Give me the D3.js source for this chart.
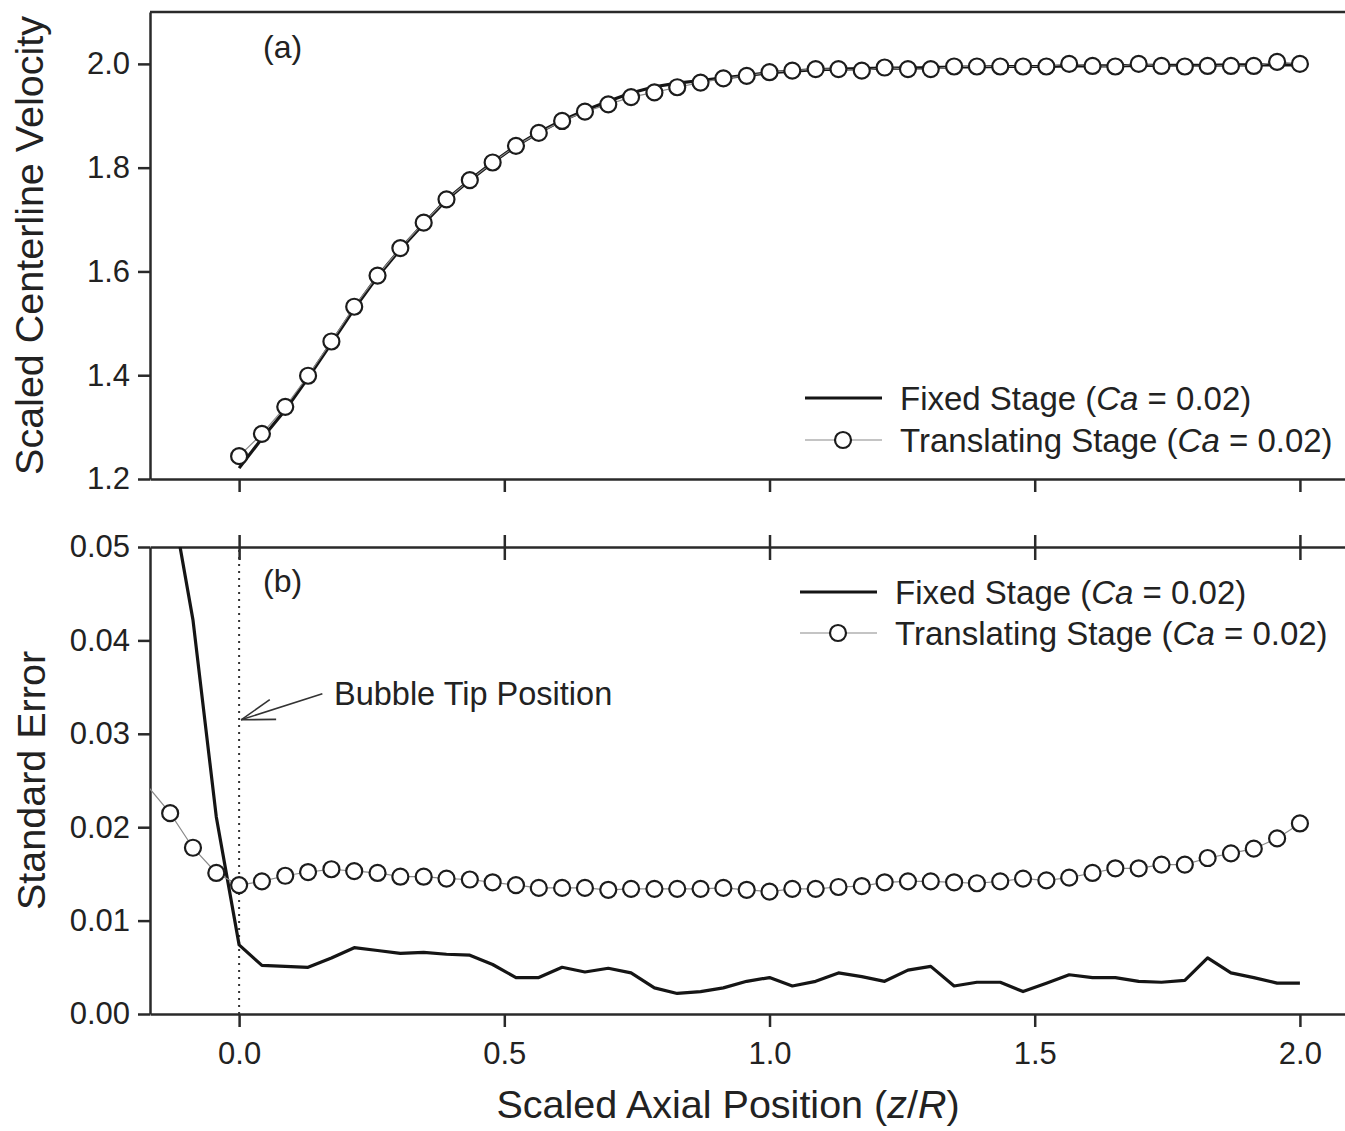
<!DOCTYPE html>
<html>
<head>
<meta charset="utf-8">
<script src="https://cdn.jsdelivr.net/npm/d3@7/dist/d3.min.js"></script>
<style>
  body { margin: 0; background: #fff; }
  svg text { font-family: "Liberation Sans", Arial, sans-serif; fill: #222; }
</style>
</head>
<body>
<div id="plot"></div>
<script>
// axial positions z/R shared by all series
const zPos = [-0.174, -0.130, -0.087, -0.043, 0.000, 0.043, 0.087, 0.130, 0.174, 0.217,
  0.261, 0.304, 0.348, 0.391, 0.435, 0.478, 0.522, 0.565, 0.609, 0.652,
  0.696, 0.739, 0.783, 0.826, 0.870, 0.913, 0.957, 1.000, 1.043, 1.087,
  1.130, 1.174, 1.217, 1.261, 1.304, 1.348, 1.391, 1.435, 1.478, 1.522,
  1.565, 1.609, 1.652, 1.696, 1.739, 1.783, 1.826, 1.870, 1.913, 1.957, 2.000];

// (a) scaled centerline velocity, z >= 0
const velFixed = [1.221, 1.278, 1.333, 1.395, 1.462, 1.528, 1.590, 1.643, 1.692, 1.738,
  1.776, 1.810, 1.842, 1.868, 1.891, 1.910, 1.928, 1.944, 1.956, 1.963,
  1.968, 1.973, 1.978, 1.983, 1.986, 1.989, 1.990, 1.991, 1.992, 1.992,
  1.993, 1.994, 1.994, 1.995, 1.995, 1.995, 1.996, 1.996, 1.996, 1.997,
  1.997, 1.997, 1.997, 1.998, 1.998, 1.998, 1.998];
const velTrans = [1.244, 1.287, 1.339, 1.399, 1.465, 1.532, 1.592, 1.645, 1.694, 1.739,
  1.776, 1.810, 1.842, 1.867, 1.890, 1.908, 1.922, 1.936, 1.945, 1.955,
  1.964, 1.972, 1.977, 1.984, 1.987, 1.990, 1.990, 1.987, 1.993, 1.990,
  1.990, 1.995, 1.995, 1.995, 1.995, 1.995, 2.000, 1.996, 1.995, 2.000,
  1.996, 1.995, 1.996, 1.996, 1.996, 2.004, 2.000];

// (b) standard error, all positions
const errFixed = [0.0700, 0.0560, 0.0422, 0.0211, 0.0074, 0.0052, 0.0051, 0.0050, 0.0060, 0.0071,
  0.0068, 0.0065, 0.0066, 0.0064, 0.0063, 0.0053, 0.0039, 0.0039, 0.0050, 0.0045,
  0.0049, 0.0044, 0.0028, 0.0022, 0.0024, 0.0028, 0.0035, 0.0039, 0.0030, 0.0035,
  0.0044, 0.0040, 0.0035, 0.0047, 0.0051, 0.0030, 0.0034, 0.0034, 0.0024, 0.0033,
  0.0042, 0.0039, 0.0039, 0.0035, 0.0034, 0.0036, 0.0060, 0.0044, 0.0039, 0.0033, 0.0033];
const errTrans = [0.0245, 0.0215, 0.0178, 0.0151, 0.0138, 0.0142, 0.0148, 0.0152, 0.0155, 0.0153,
  0.0151, 0.0147, 0.0147, 0.0145, 0.0144, 0.0141, 0.0138, 0.0135, 0.0135, 0.0135,
  0.0133, 0.0134, 0.0134, 0.0134, 0.0134, 0.0135, 0.0133, 0.0131, 0.0134, 0.0134,
  0.0136, 0.0137, 0.0141, 0.0142, 0.0142, 0.0141, 0.0140, 0.0142, 0.0145, 0.0143,
  0.0146, 0.0151, 0.0156, 0.0156, 0.0160, 0.0160, 0.0167, 0.0172, 0.0177, 0.0188, 0.0204];

const xTicks = [0, 0.5, 1.0, 1.5, 2.0];
const velTicks = [1.2, 1.4, 1.6, 1.8, 2.0];
const errTicks = [0.00, 0.01, 0.02, 0.03, 0.04, 0.05];
const legendLabels = ["Fixed Stage", "Translating Stage"];

const w = 1345, h = 1131;
const left = 150, right = 1345;
const topA = 12, botA = 479;
const topB = 547, botB = 1014;

const svg = d3.select("div#plot").append("svg")
    .attr("width", w)
    .attr("height", h);

const x = d3.scaleLinear().domain([-0.168, 2.085]).range([left, right]);
const yA = d3.scaleLinear().domain([1.2, 2.1]).range([botA, topA]);
const yB = d3.scaleLinear().domain([0, 0.05]).range([botB, topB]);

const topPts = zPos.map(z => ({z: z})).filter(d => d.z >= 0);
topPts.forEach((d, i) => { d.fixed = velFixed[i]; d.trans = velTrans[i]; });
const botPts = zPos.map((z, i) => ({z: z, fixed: errFixed[i], trans: errTrans[i]}));

const defs = svg.append("defs");
defs.append("clipPath").attr("id", "clipA")
  .append("rect").attr("x", left).attr("y", topA).attr("width", right - left).attr("height", botA - topA);
defs.append("clipPath").attr("id", "clipB")
  .append("rect").attr("x", left).attr("y", topB).attr("width", right - left).attr("height", botB - topB);

function styleAxis(g) {
  g.selectAll("path, line").attr("stroke", "#2a2a2a").attr("stroke-width", 2.5);
  g.selectAll("text")
      .attr("font-family", "Liberation Sans, Arial, sans-serif")
      .attr("font-size", 31)
      .attr("fill", "#222");
}

function drawSeries(data, y, clip) {
  const g = svg.append("g").attr("clip-path", `url(#${clip})`);
  const line = key => d3.line().x(d => x(d.z)).y(d => y(d[key]));
  g.append("path").datum(data)
      .attr("d", line("fixed"))
      .attr("fill", "none").attr("stroke", "#151515").attr("stroke-width", 3.2)
      .attr("stroke-linejoin", "round");
  g.append("path").datum(data)
      .attr("d", line("trans"))
      .attr("fill", "none").attr("stroke", "#8a8a8a").attr("stroke-width", 1.2);
  g.selectAll("circle").data(data.filter(d => d.z >= x.domain()[0]))
    .enter().append("circle")
      .attr("cx", d => x(d.z))
      .attr("cy", d => y(d.trans))
      .attr("r", 8)
      .attr("fill", "#fff").attr("stroke", "#1c1c1c").attr("stroke-width", 2.2);
}

function legend(x0, y0, gap) {
  const g = svg.append("g");
  legendLabels.forEach((lab, i) => {
    const yy = y0 + i * gap;
    g.append("line").attr("x1", x0).attr("x2", x0 + 77).attr("y1", yy).attr("y2", yy)
        .attr("stroke", i === 0 ? "#151515" : "#8a8a8a")
        .attr("stroke-width", i === 0 ? 3.2 : 1.2);
    if (i === 1) {
      g.append("circle").attr("cx", x0 + 38).attr("cy", yy).attr("r", 8)
          .attr("fill", "#fff").attr("stroke", "#1c1c1c").attr("stroke-width", 2.2);
    }
    const t = g.append("text").attr("x", x0 + 95).attr("y", yy + 12).attr("font-size", 33);
    t.append("tspan").text(lab + " (");
    t.append("tspan").attr("font-style", "italic").text("Ca");
    t.append("tspan").text(" = 0.02)");
  });
}

// ---- panel (a)
svg.append("line").attr("x1", left).attr("x2", right).attr("y1", topA).attr("y2", topA)
    .attr("stroke", "#2a2a2a").attr("stroke-width", 2.5);

svg.append("g")
    .attr("transform", `translate(${left},0)`)
    .call(d3.axisLeft(yA).tickValues(velTicks).tickFormat(d3.format(".1f")).tickSize(12).tickPadding(8).tickSizeOuter(0))
    .call(styleAxis);

svg.append("g")
    .attr("transform", `translate(0,${botA})`)
    .call(d3.axisBottom(x).tickValues(xTicks).tickFormat("").tickSize(13).tickSizeOuter(0))
    .call(styleAxis);

drawSeries(topPts, yA, "clipA");
legend(805, 398, 42);

svg.append("text").attr("x", 263).attr("y", 58).attr("font-size", 32).text("(a)");

svg.append("text")
    .attr("transform", `translate(43,${(topA + botA) / 2}) rotate(-90)`)
    .attr("text-anchor", "middle")
    .attr("font-size", 39.5)
    .text("Scaled Centerline Velocity");

// ---- panel (b)
const topAxisB = svg.append("g")
    .attr("transform", `translate(0,${topB})`)
    .call(d3.axisTop(x).tickValues(xTicks).tickFormat("").tickSize(12).tickSizeOuter(0))
    .call(styleAxis);
topAxisB.selectAll(".tick line").attr("y1", 13);

svg.append("g")
    .attr("transform", `translate(${left},0)`)
    .call(d3.axisLeft(yB).tickValues(errTicks).tickFormat(d3.format(".2f")).tickSize(12).tickPadding(8).tickSizeOuter(0))
    .call(styleAxis);

svg.append("g")
    .attr("transform", `translate(0,${botB})`)
    .call(d3.axisBottom(x).tickValues(xTicks).tickFormat(d3.format(".1f")).tickSize(13).tickPadding(15).tickSizeOuter(0))
    .call(styleAxis);

// bubble tip marker
svg.append("line")
    .attr("x1", x(0)).attr("x2", x(0)).attr("y1", yB(0)).attr("y2", yB(0.05))
    .attr("stroke", "#333").attr("stroke-width", 2).attr("stroke-dasharray", "2,5");

drawSeries(botPts, yB, "clipB");
legend(800, 592, 41);

svg.append("text").attr("x", 263).attr("y", 592).attr("font-size", 32).text("(b)");

// arrow annotation
const tip = [x(0) + 2, yB(0.0315)];
const tail = [x(0.157), yB(0.0343)];
const ang = Math.atan2(tail[1] - tip[1], tail[0] - tip[0]);
const ann = svg.append("g").attr("stroke", "#333").attr("stroke-width", 1.6).attr("fill", "none");
ann.append("line").attr("x1", tip[0]).attr("y1", tip[1]).attr("x2", tail[0]).attr("y2", tail[1]);
[-0.3, 0.3].forEach(da => {
  ann.append("line")
      .attr("x1", tip[0]).attr("y1", tip[1])
      .attr("x2", tip[0] + 35 * Math.cos(ang + da))
      .attr("y2", tip[1] + 35 * Math.sin(ang + da));
});
svg.append("text").attr("x", 334).attr("y", 705).attr("font-size", 32.5).text("Bubble Tip Position");

svg.append("text")
    .attr("transform", `translate(45,${(topB + botB) / 2}) rotate(-90)`)
    .attr("text-anchor", "middle")
    .attr("font-size", 39.5)
    .text("Standard Error");

const xt = svg.append("text")
    .attr("x", 728).attr("y", 1118)
    .attr("text-anchor", "middle")
    .attr("font-size", 39.5);
xt.append("tspan").text("Scaled Axial Position (");
xt.append("tspan").attr("font-style", "italic").text("z");
xt.append("tspan").text("/");
xt.append("tspan").attr("font-style", "italic").text("R");
xt.append("tspan").text(")");
</script>
</body>
</html>
